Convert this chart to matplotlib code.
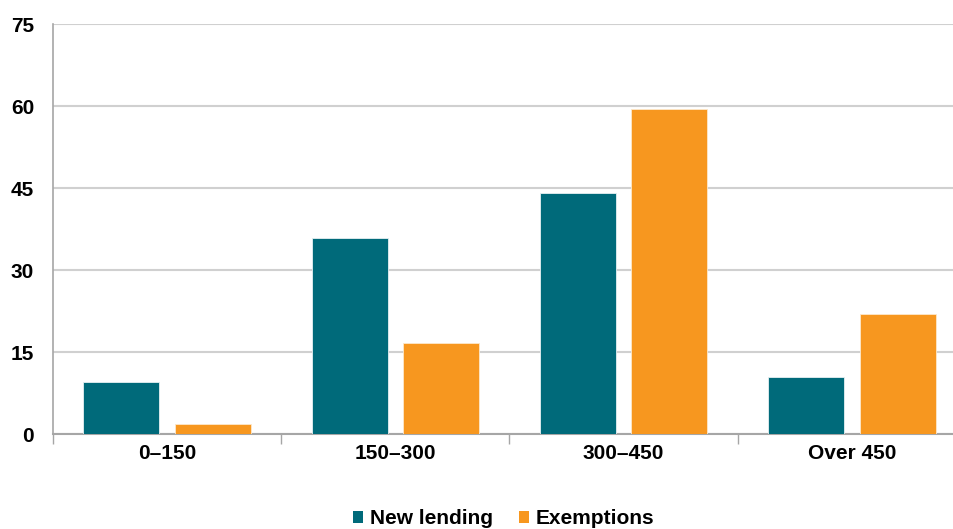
import matplotlib
matplotlib.use("Agg")
import matplotlib.pyplot as plt
import numpy as np
from matplotlib.patches import Patch

categories = ["0\u2013150", "150\u2013300", "300\u2013450", "Over 450"]
new_lending = [9.6, 35.8, 44.1, 10.5]
exemptions = [1.9, 16.6, 59.5, 21.9]
yticks = [0, 15, 30, 45, 60, 75]

teal = "#006a7a"
orange = "#f7971f"

plt.rcParams["font.family"] = ["Liberation Sans", "DejaVu Sans"]
plt.rcParams["font.weight"] = "bold"

fig = plt.figure(figsize=(9.54, 5.29), dpi=100)
ax = fig.add_axes([53 / 954, 95 / 529, 913 / 954, (434 - 24) / 529])

x = np.arange(len(categories))
w = 0.333
off = 0.2
ax.bar(x - off, new_lending, w, color=teal, edgecolor="#e6f0f2", linewidth=0.6, zorder=3)
ax.bar(x + off, exemptions, w, color=orange, edgecolor="#fde9cc", linewidth=0.6, zorder=3)

ax.set_xlim(-0.5, len(categories) - 0.5)
ax.set_ylim(0, 75)
ax.set_yticks(yticks)
ax.set_yticklabels([str(v) for v in yticks], fontsize=15, fontweight="bold")
ax.tick_params(axis="y", length=0, pad=13.5)

ax.set_xticks(x)
ax.set_xticklabels(categories, fontsize=15, fontweight="bold")
ax.set_xticks(np.arange(-0.5, len(categories) - 0.4, 1), minor=True)
ax.tick_params(axis="x", which="major", length=0, pad=7)
ax.tick_params(axis="x", which="minor", length=7, color="#a6a6a6", width=1)

ax.grid(axis="y", color="#d0d0d0", linewidth=1.5, zorder=0)
ax.set_axisbelow(True)
for s in ["top", "right"]:
    ax.spines[s].set_visible(False)
ax.spines["left"].set_color("#a6a6a6")
ax.spines["bottom"].set_color("#a6a6a6")
ax.spines["left"].set_linewidth(1.2)
ax.spines["bottom"].set_linewidth(1.5)

handles = [Patch(facecolor=teal, label="New lending"),
           Patch(facecolor=orange, label="Exemptions")]
fig.legend(handles=handles, loc="center", bbox_to_anchor=(503.5 / 954, 1 - 519 / 529),
           ncol=2, frameon=False, handlelength=0.5, handleheight=0.5,
           handletextpad=0.32, columnspacing=1.25, prop={"size": 15, "weight": "bold"})

fig.savefig("out.png", dpi=100)
